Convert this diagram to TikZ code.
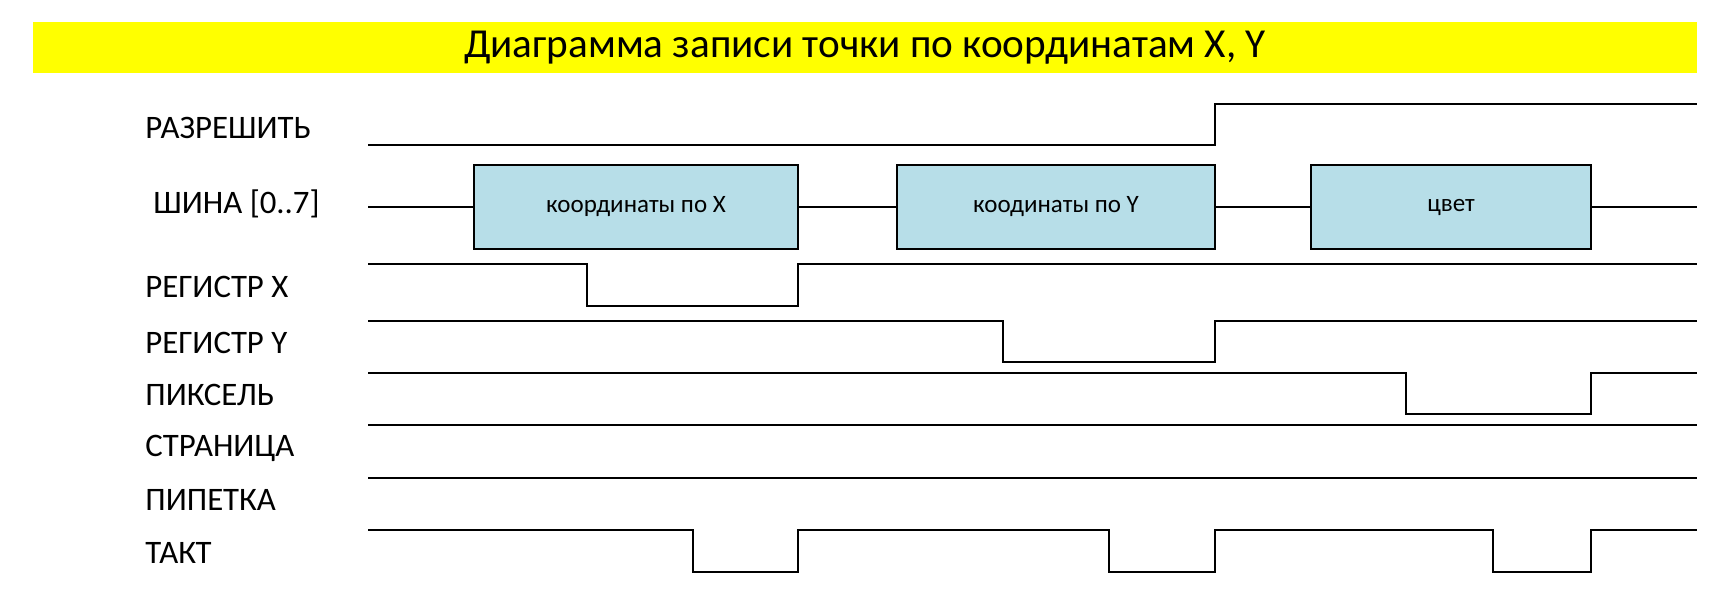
\documentclass[tikz,border=0pt]{standalone}
\usepackage{fontspec}
\setmainfont{Carlito}
\usepackage{tikz}
\usepackage{xcolor}
\usetikzlibrary{positioning}
\definecolor{titleyellow}{RGB}{255,255,0}
\definecolor{busblue}{RGB}{183,222,232}
\tikzset{
  sig/.style={draw, line width=1.4pt},
  signame/.style={anchor=base west, inner sep=0pt, font=\fontsize{16.4}{19}\selectfont},
  busbox/.style={
    draw, line width=1.1pt, fill=busblue,
    minimum height=42pt, inner sep=0pt,
    font=\fontsize{12.5}{15}\selectfont
  },
}

\begin{document}
\begin{tikzpicture}[x=0.5pt, y=-0.5pt]
  \useasboundingbox (0,0) rectangle (1719,605);

  \node[fill=titleyellow, minimum width=832pt, minimum height=25.8pt,
        font=\fontsize{20.6}{24}\selectfont]
                         (title) at (865,47.5) {Диаграмма записи точки по координатам X, Y};

  % signal names
  \node[signame] (nen)   at (145,138) {РАЗРЕШИТЬ};
  \node[signame] (nbus)  at (153,213) {ШИНА [0..7]};
  \node[signame] (nrx)   at (145,297) {РЕГИСТР X};
  \node[signame] (nry)   at (145,353) {РЕГИСТР Y};
  \node[signame] (npix)  at (145,405) {ПИКСЕЛЬ};
  \node[signame] (npage) at (145,456) {СТРАНИЦА};
  \node[signame] (npip)  at (145,510) {ПИПЕТКА};
  \node[signame] (nclk)  at (145,563) {ТАКТ};

  % bus contents
  \node[busbox, minimum width=162pt] (bx)  at (636,207)  {координаты по X};
  \node[busbox, minimum width=159pt] (by)  at (1056,207) {коодинаты по Y};
  \node[busbox, minimum width=140pt] (bcl) at (1451,207) {цвет};
  \coordinate (bus0) at (368,207);
  \coordinate (bus1) at (1697,207);
  \draw[sig] (bus0) -- (bx);
  \draw[sig] (bx) -- (by);
  \draw[sig] (by) -- (bcl);
  \draw[sig] (bcl) -- (bus1);

  % waveforms
  \draw[sig] (368,145) -| (1215,104) -- (1697,104);
  \draw[sig] (368,264) -| (587,306) -| (798,264) -- (1697,264);
  \draw[sig] (368,321) -| (1003,362) -| (1215,321) -- (1697,321);
  \draw[sig] (368,373) -| (1406,414) -| (1591,373) -- (1697,373);
  \draw[sig] (368,425) -- (1697,425);
  \draw[sig] (368,478) -- (1697,478);
  \draw[sig] (368,530) -| (693,572) -| (798,530) -| (1109,572) -| (1215,530)
                       -| (1493,572) -| (1591,530) -- (1697,530);
\end{tikzpicture}
\end{document}
